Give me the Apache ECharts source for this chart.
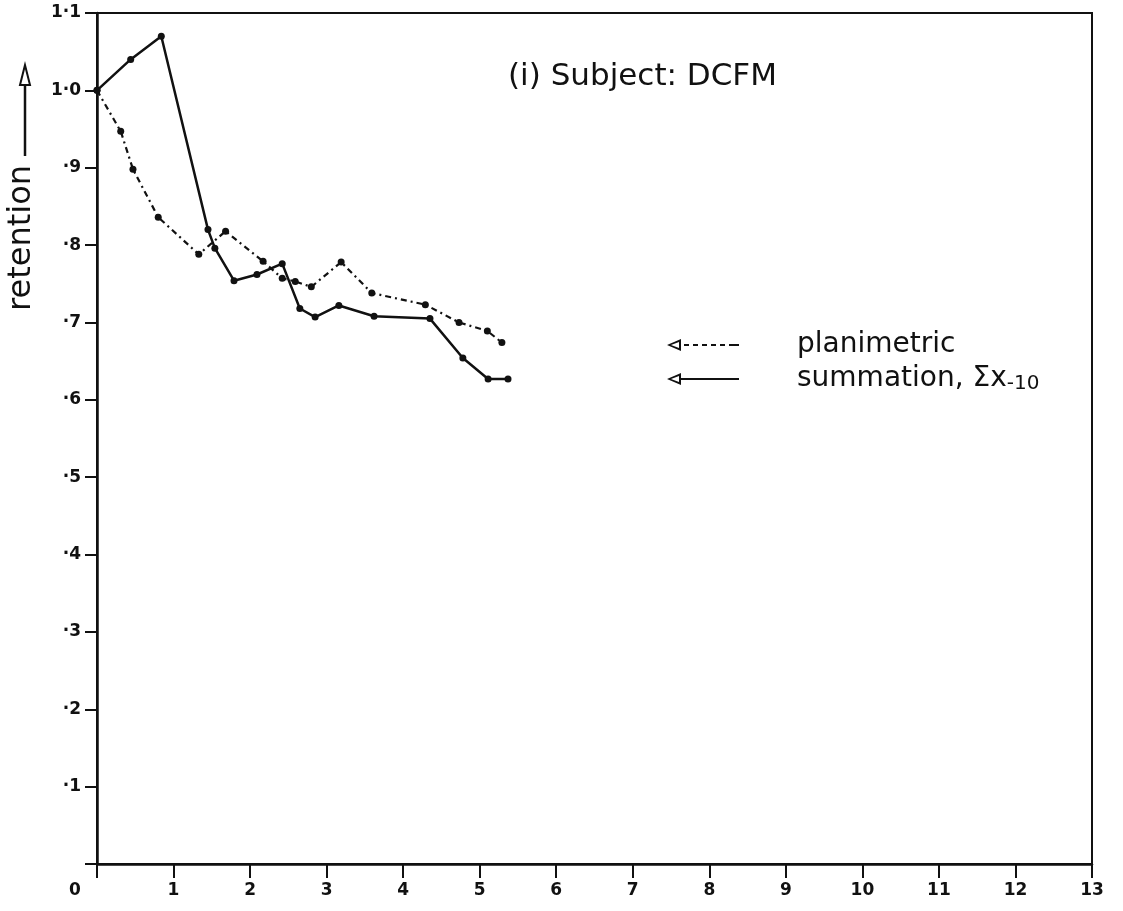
<!DOCTYPE html>
<html>
<head>
<meta charset="utf-8">
<script src="https://cdn.jsdelivr.net/npm/echarts@6/dist/echarts.min.js"></script>
<style>
  html, body { margin: 0; padding: 0; background: #fff; }
  #chart { width: 1123px; height: 911px; }
</style>
</head>
<body>
<div id="chart"></div>
<script>
// ---- data ----
const summationX = [0, 0.44, 0.84, 1.45, 1.54, 1.79, 2.09, 2.42, 2.65, 2.85, 3.16, 3.62, 4.35, 4.78, 5.11, 5.37];
const summationY = [1.0, 1.04, 1.07, 0.82, 0.796, 0.754, 0.762, 0.776, 0.718, 0.707, 0.722, 0.708, 0.705, 0.654, 0.627, 0.627];
const planimetricX = [0, 0.31, 0.47, 0.80, 1.33, 1.68, 2.17, 2.42, 2.59, 2.80, 3.19, 3.59, 4.29, 4.73, 5.10, 5.29];
const planimetricY = [1.0, 0.947, 0.898, 0.836, 0.788, 0.818, 0.779, 0.757, 0.753, 0.746, 0.778, 0.738, 0.723, 0.700, 0.689, 0.674];
const xTickLabels = ['0', '1', '2', '3', '4', '5', '6', '7', '8', '9', '10', '11', '12', '13'];
const yTickLabels = ['', '·1', '·2', '·3', '·4', '·5', '·6', '·7', '·8', '·9', '1·0', '1·1'];
const seriesNames = ['planimetric', 'summation, Σx-10'];
const titleText = '(i) Subject: DCFM';
const yAxisTitle = 'retention';

const pairs = (xs, ys) => xs.map((x, i) => [x, ys[i]]);

const chart = echarts.init(document.getElementById('chart'), null, { renderer: 'canvas' });

const iconPlan = 'path://M0,7 L14,1 L14,13 Z M4,7 L12,10 L12,4 Z ' +
  'M17,6 h5 v2 h-5 Z M26,6 h5 v2 h-5 Z M35,6 h5 v2 h-5 Z M44,6 h5 v2 h-5 Z M53,6 h5 v2 h-5 Z M62,6 h5 v2 h-5 Z M67,6 h5 v2 h-5 Z';
const iconSum = 'path://M0,7 L14,1 L14,13 Z M4,7 L12,10 L12,4 Z M14,6 h58 v2 h-58 Z';

const tickFont = { fontFamily: 'DejaVu Sans', fontWeight: 'bold', fontSize: 17, color: '#111' };

chart.setOption({
  animation: false,
  backgroundColor: '#fff',
  title: {
    text: titleText,
    left: 503,
    top: 56,
    textStyle: { fontFamily: 'DejaVu Sans', fontWeight: 'normal', fontSize: 31, color: '#111' }
  },
  legend: {
    orient: 'vertical',
    left: 662,
    top: 326,
    itemWidth: 72,
    itemHeight: 14,
    itemGap: 6,
    data: [
      { name: seriesNames[0], icon: iconPlan },
      { name: seriesNames[1], icon: iconSum }
    ],
    formatter: function (name) {
      if (name === seriesNames[1]) return 'summation, Σx{s|-10}';
      return name;
    },
    textStyle: {
      fontFamily: 'DejaVu Sans',
      fontSize: 28,
      color: '#111',
      padding: [0, 0, 0, 53],
      rich: { s: { fontFamily: 'DejaVu Sans', fontSize: 20, color: '#111', padding: [10, 0, 0, 0] } }
    },
    itemStyle: { color: '#111' }
  },
  grid: {
    left: 97, right: 31, top: 13, bottom: 47,
    show: true, borderColor: '#111', borderWidth: 2, backgroundColor: 'transparent'
  },
  graphic: [
    {
      type: 'text',
      left: 6,
      top: 165,
      rotation: Math.PI / 2,
      style: { text: yAxisTitle, fontFamily: 'DejaVu Sans', fontSize: 32, fill: '#111' }
    },
    {
      type: 'line',
      shape: { x1: 25, y1: 156, x2: 25, y2: 84 },
      style: { stroke: '#111', lineWidth: 2.5 }
    },
    {
      type: 'polygon',
      shape: { points: [[25, 65], [20, 85], [30, 85]] },
      style: { stroke: '#111', lineWidth: 2, fill: '#fff' }
    }
  ],
  xAxis: {
    type: 'value', min: 0, max: 13, interval: 1,
    axisLine: { show: true, onZero: false, lineStyle: { color: '#111', width: 2.5 } },
    axisTick: { show: true, length: 14, lineStyle: { color: '#111', width: 2 } },
    splitLine: { show: false },
    axisLabel: {
      margin: 18,
      ...tickFont,
      formatter: function (v) {
        const i = Math.round(v);
        return i === 0 ? '{z|' + xTickLabels[0] + '}' : xTickLabels[i];
      },
      rich: { z: { ...tickFont, padding: [0, 44, 0, 0] } }
    }
  },
  yAxis: {
    type: 'value', min: 0, max: 1.1, interval: 0.1,
    axisLine: { show: true, onZero: false, lineStyle: { color: '#111', width: 2.5 } },
    axisTick: { show: true, length: 12, lineStyle: { color: '#111', width: 2 } },
    splitLine: { show: false },
    axisLabel: {
      margin: 16,
      ...tickFont,
      formatter: function (v) { return yTickLabels[Math.round(v * 10)]; }
    }
  },
  series: [
    {
      name: seriesNames[0],
      type: 'line',
      data: pairs(planimetricX, planimetricY),
      symbol: 'circle',
      symbolSize: 7,
      itemStyle: { color: '#111' },
      lineStyle: { color: '#111', width: 2.2, type: [6, 4, 2, 4] }
    },
    {
      name: seriesNames[1],
      type: 'line',
      data: pairs(summationX, summationY),
      symbol: 'circle',
      symbolSize: 7,
      itemStyle: { color: '#111' },
      lineStyle: { color: '#111', width: 2.5 }
    }
  ]
});
</script>
</body>
</html>
